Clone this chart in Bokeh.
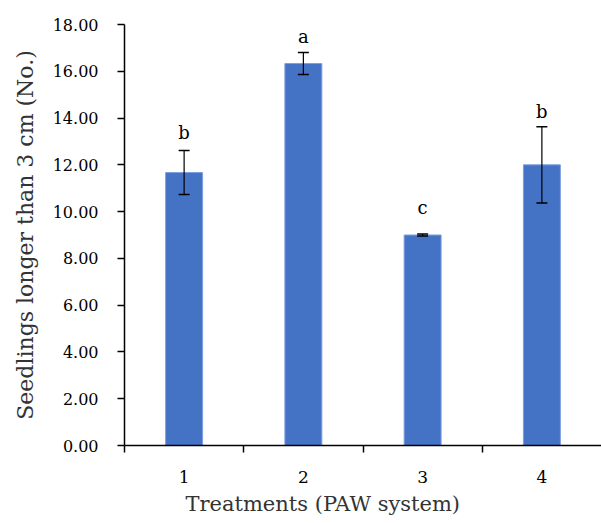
from bokeh.plotting import figure
from bokeh.models import ColumnDataSource, FixedTicker, Range1d, CustomJSTickFormatter, Title
from bokeh.core.properties import value
from bokeh.embed import file_html
from bokeh.resources import INLINE

treatments = [1, 2, 3, 4]
tick_labels = ["1", "2", "3", "4"]
seedlings = [11.67, 16.33, 9.00, 12.00]
errors = [0.94, 0.47, 0.04, 1.63]
letters = ["b", "a", "c", "b"]
letter_y = [13.38, 17.49, 10.18, 14.28]

FONT = "DejaVu Serif"

src = ColumnDataSource(dict(
    x=treatments, top=seedlings,
    upper=[m + e for m, e in zip(seedlings, errors)],
    lower=[m - e for m, e in zip(seedlings, errors)],
    letter=letters, ly=letter_y,
))

p = figure(width=601, height=523, output_backend="svg", toolbar_location=None,
           x_range=Range1d(0.5, 4.5), y_range=Range1d(0, 18),
           min_border_left=124, min_border_right=0, min_border_top=24, min_border_bottom=78)
p.outline_line_color = None
p.grid.grid_line_color = None
p.background_fill_color = "white"

p.vbar(x="x", top="top", width=0.31, source=src, fill_color="#4472C4",
       line_color="#7c9fe0", line_width=1)

# error bars
p.segment(x0="x", y0="lower", x1="x", y1="upper", source=src,
          line_color="black", line_width=1.2)
p.scatter(x="x", y="upper", source=src, marker="dash", size=11,
          line_color="black", line_width=1.5)
p.scatter(x="x", y="lower", source=src, marker="dash", size=11,
          line_color="black", line_width=1.5)

p.text(x="x", y="ly", text="letter", source=src, text_align="center",
       text_baseline="alphabetic", text_font=value(FONT), text_font_size="18px",
       text_color="black")

# y axis
p.yaxis.ticker = FixedTicker(ticks=list(range(0, 19, 2)))
p.yaxis.formatter = CustomJSTickFormatter(code="return tick.toFixed(2);")
p.yaxis.major_tick_out = 7
p.yaxis.major_tick_in = 0
p.yaxis.minor_tick_line_color = None
p.yaxis.axis_line_color = "black"
p.yaxis.axis_line_width = 1.5
p.yaxis.major_tick_line_color = "black"
p.yaxis.major_tick_line_width = 1.5
p.yaxis.major_label_text_font = FONT
p.yaxis.major_label_text_font_size = "16px"
p.yaxis.major_label_text_color = "black"
p.yaxis.major_label_standoff = 19
p.yaxis.axis_label = "Seedlings longer than 3 cm (No.)"
p.yaxis.axis_label_text_font = FONT
p.yaxis.axis_label_text_font_style = "normal"
p.yaxis.axis_label_text_font_size = "22px"
p.yaxis.axis_label_text_color = "#333333"
p.yaxis.axis_label_standoff = 12

# x axis
p.xaxis.ticker = FixedTicker(ticks=treatments,
                             minor_ticks=[t - 0.5 for t in treatments])
p.xaxis.major_label_overrides = {t: l for t, l in zip(treatments, tick_labels)}
p.xaxis.major_tick_out = 0
p.xaxis.major_tick_in = 0
p.xaxis.minor_tick_out = 7
p.xaxis.minor_tick_in = 0
p.xaxis.minor_tick_line_color = "black"
p.xaxis.minor_tick_line_width = 1.5
p.xaxis.axis_line_color = "black"
p.xaxis.axis_line_width = 1.5
p.xaxis.major_label_text_font = FONT
p.xaxis.major_label_text_font_size = "17px"
p.xaxis.major_label_text_color = "black"
p.xaxis.major_label_standoff = 18

# x axis title, placed left of centre as in the original
p.add_layout(Title(text="Treatments (PAW system)", align="left", offset=61,
                   text_font=FONT, text_font_size="21px", text_font_style="normal",
                   text_color="#333333", standoff=9), "below")

open("out.html", "w").write(file_html(p, INLINE))
